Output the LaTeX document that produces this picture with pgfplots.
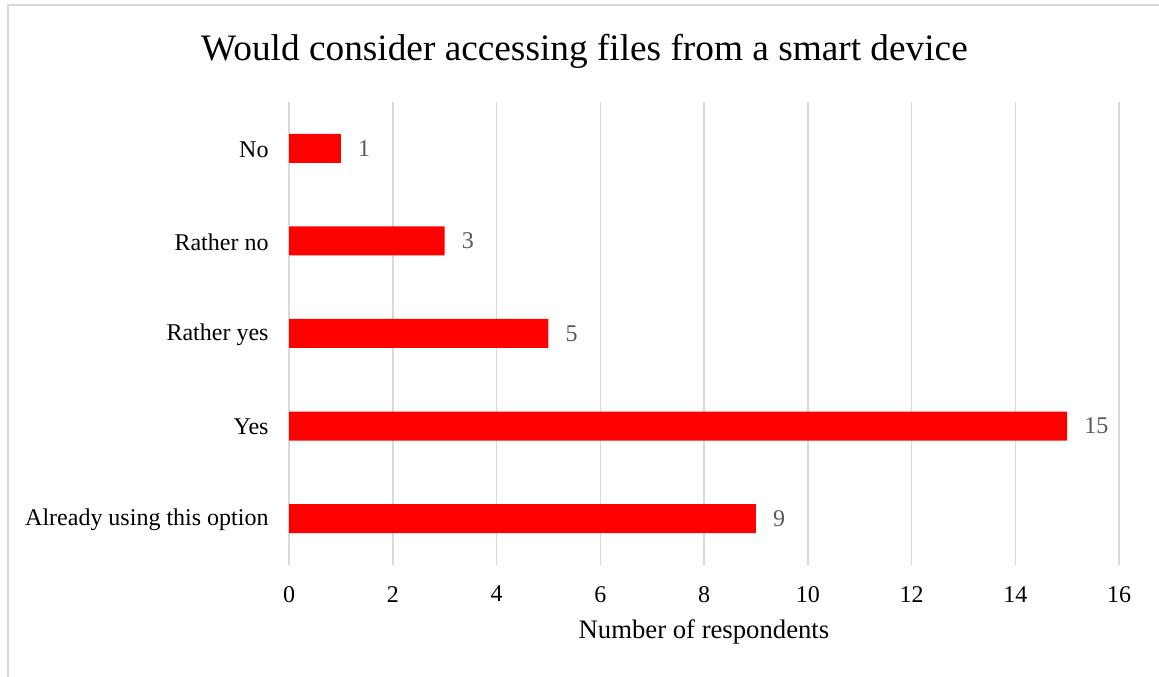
\documentclass[border=0pt]{standalone}
\usepackage{pgfplots}
\pgfplotsset{compat=1.18}
\usepackage{fontspec}
\setmainfont{Liberation Serif}
\definecolor{gridgray}{HTML}{D9D9D9}
\definecolor{labgray}{HTML}{595959}
\begin{document}
\begin{tikzpicture}[x=1pt,y=1pt]
\useasboundingbox (0,0) rectangle (1159,677);
\draw[gridgray, line width=1.5pt] (8,0) -- (8,672) -- (1159,672);
\node[anchor=base, font=\fontsize{37.3}{40}\selectfont] at (584.5,616) {Would consider accessing files from a smart device};
\begin{axis}[
  scale only axis,
  width=830pt, height=463pt,
  at={(289pt,112pt)}, anchor=south west,
  xbar, bar width=29pt,
  xmin=0, xmax=16, ymin=-0.5, ymax=4.5,
  xtick={0,2,...,16},
  ytick={0,1,2,3,4},
  yticklabels={Already using this option, Yes, Rather yes, Rather no, No},
  xmajorgrids,
  major grid style={gridgray, line width=1.5pt},
  axis line style={draw=none},
  tick style={draw=none},
  /pgf/number format/assume math mode=true,
  tick label style={font=\fontsize{24}{28}\selectfont, inner sep=0pt},
  yticklabel style={anchor=east, xshift=-16pt, yshift=-1pt},
  xticklabel style={anchor=north, yshift=-21pt},
  xlabel={Number of respondents},
  xlabel style={font=\fontsize{26.7}{30}\selectfont, at={(axis description cs:0.5,0)}, anchor=base, yshift=-74pt, inner sep=0pt},
  nodes near coords,
  nodes near coords style={font=\fontsize{24}{28}\selectfont, text=labgray, anchor=west, inner sep=0pt, xshift=17pt},
  clip=false,
]
\addplot[fill=red, draw=none] coordinates {(9,0) (15,1) (5,2) (3,3) (1,4)};
\end{axis}
\end{tikzpicture}
\end{document}
